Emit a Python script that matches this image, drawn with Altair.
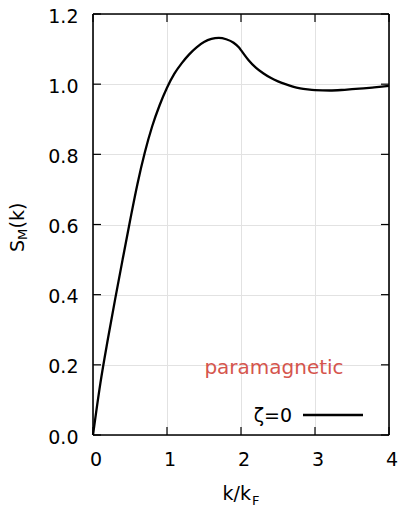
import altair as alt
import pandas as pd

# curve data
k_vals = [0, 0.1, 0.2, 0.3, 0.4, 0.5, 0.6, 0.7, 0.8, 0.9, 1.0, 1.1, 1.2, 1.3, 1.4,
          1.5, 1.6, 1.7, 1.8, 1.9, 1.97, 2.0, 2.1, 2.2, 2.3, 2.4, 2.5, 2.6, 2.7,
          2.8, 2.9, 3.0, 3.2, 3.4, 3.6, 3.8, 4.0]
s_vals = [0, 0.148, 0.272, 0.388, 0.50, 0.61, 0.715, 0.805, 0.88, 0.94, 0.99, 1.03,
          1.06, 1.085, 1.105, 1.12, 1.129, 1.132, 1.128, 1.118, 1.105, 1.097, 1.069,
          1.047, 1.031, 1.018, 1.008, 1.000, 0.993, 0.988, 0.985, 0.983, 0.982,
          0.984, 0.987, 0.991, 0.995]

x_ticks = [0, 1, 2, 3, 4]
y_ticks = [0.0, 0.2, 0.4, 0.6, 0.8, 1.0, 1.2]

W, H = 296, 421
FONT = "DejaVu Sans"
FS = 19

df = pd.DataFrame({"k": k_vals, "S": s_vals})
xt = pd.DataFrame({"k": x_ticks})
yt = pd.DataFrame({"S": y_ticks})
one = pd.DataFrame({"t": ["a"]})

xs = alt.Scale(domain=[0, 4], nice=False, zero=False)
ys = alt.Scale(domain=[0, 1.2], nice=False, zero=False)

xaxis = alt.Axis(values=x_ticks, format="d", grid=True, gridColor="#e2e2e2", gridWidth=1,
                 domain=False, ticks=False, labelPadding=15, labelFontSize=FS,
                 labelFont=FONT, labelColor="black", title=None,
                 labelFlush=False, labelOffset=2.5, labelOverlap=False)
yaxis = alt.Axis(values=y_ticks, format=".1f", grid=True, gridColor="#e2e2e2", gridWidth=1,
                 domain=False, ticks=False, labelPadding=15, labelFontSize=FS,
                 labelFont=FONT, labelColor="black", title=None,
                 labelFlush=False, labelOffset=2, labelOverlap=False)

base_grid = alt.Chart(df).mark_line(opacity=0).encode(
    x=alt.X("k:Q", scale=xs, axis=xaxis),
    y=alt.Y("S:Q", scale=ys, axis=yaxis),
)

curve = alt.Chart(df).mark_line(color="black", strokeWidth=2.3, interpolate="monotone").encode(
    x=alt.X("k:Q", scale=xs),
    y=alt.Y("S:Q", scale=ys),
)

# frame
frame_style = dict(color="black", strokeWidth=1.6)
f_top = alt.Chart(one).mark_rule(**frame_style).encode(x=alt.value(0), x2=alt.value(W), y=alt.value(0))
f_bot = alt.Chart(one).mark_rule(**frame_style).encode(x=alt.value(0), x2=alt.value(W), y=alt.value(H))
f_left = alt.Chart(one).mark_rule(**frame_style).encode(x=alt.value(0), y=alt.value(0), y2=alt.value(H))
f_right = alt.Chart(one).mark_rule(**frame_style).encode(x=alt.value(W), y=alt.value(0), y2=alt.value(H))

tick_len = 8
bottom_ticks = alt.Chart(xt).mark_rule(color="black", strokeWidth=1.2).encode(
    x=alt.X("k:Q", scale=xs), y=alt.value(H), y2=alt.value(H - tick_len))
top_ticks = alt.Chart(xt).mark_rule(color="black", strokeWidth=1.2).encode(
    x=alt.X("k:Q", scale=xs), y=alt.value(0), y2=alt.value(tick_len))
left_ticks = alt.Chart(yt).mark_rule(color="black", strokeWidth=1.2).encode(
    y=alt.Y("S:Q", scale=ys), x=alt.value(0), x2=alt.value(tick_len))
right_ticks = alt.Chart(yt).mark_rule(color="black", strokeWidth=1.2).encode(
    y=alt.Y("S:Q", scale=ys), x=alt.value(W), x2=alt.value(W - tick_len))

# annotations
para = alt.Chart(pd.DataFrame({"t": ["paramagnetic"]})).mark_text(
    font=FONT, fontSize=20, color="#d5554d", align="center", baseline="alphabetic"
).encode(text="t:N", x=alt.value(181), y=alt.value(359.5))

leg_text = alt.Chart(pd.DataFrame({"t": ["ζ=0"]})).mark_text(
    font=FONT, fontSize=FS, color="black", align="right", baseline="alphabetic"
).encode(text="t:N", x=alt.value(199), y=alt.value(408))
leg_line = alt.Chart(one).mark_rule(color="black", strokeWidth=2.4).encode(
    x=alt.value(210), x2=alt.value(270), y=alt.value(401))

# x title k/k_F
xt1 = alt.Chart(pd.DataFrame({"t": ["k/k"]})).mark_text(
    font=FONT, fontSize=FS, color="black", align="right", baseline="alphabetic"
).encode(text="t:N", x=alt.value(158), y=alt.value(486))
xt2 = alt.Chart(pd.DataFrame({"t": ["F"]})).mark_text(
    font=FONT, fontSize=13, color="black", align="left", baseline="alphabetic"
).encode(text="t:N", x=alt.value(159), y=alt.value(491))

# y title S_M(k), rotated
yt1 = alt.Chart(pd.DataFrame({"t": ["S"]})).mark_text(
    font=FONT, fontSize=FS, color="black", align="left", baseline="alphabetic", angle=270
).encode(text="t:N", x=alt.value(-69.5), y=alt.value(238))
yt2 = alt.Chart(pd.DataFrame({"t": ["M"]})).mark_text(
    font=FONT, fontSize=13, color="black", align="left", baseline="alphabetic", angle=270
).encode(text="t:N", x=alt.value(-66.5), y=alt.value(226))
yt3 = alt.Chart(pd.DataFrame({"t": ["(k)"]})).mark_text(
    font=FONT, fontSize=FS, color="black", align="left", baseline="alphabetic", angle=270
).encode(text="t:N", x=alt.value(-69.5), y=alt.value(214.5))

chart = alt.layer(
    base_grid, curve, bottom_ticks, top_ticks, left_ticks, right_ticks,
    f_top, f_bot, f_left, f_right,
    para, leg_text, leg_line, xt1, xt2, yt1, yt2, yt3
).properties(
    width=W, height=H,
    autosize=alt.AutoSizeParams(type="none"),
    padding={"left": 93, "top": 14, "right": 10, "bottom": 72},
).configure_view(
    strokeWidth=0
).configure(background="white")

chart.save("out.html", embed_options={"renderer": "svg", "actions": False})
